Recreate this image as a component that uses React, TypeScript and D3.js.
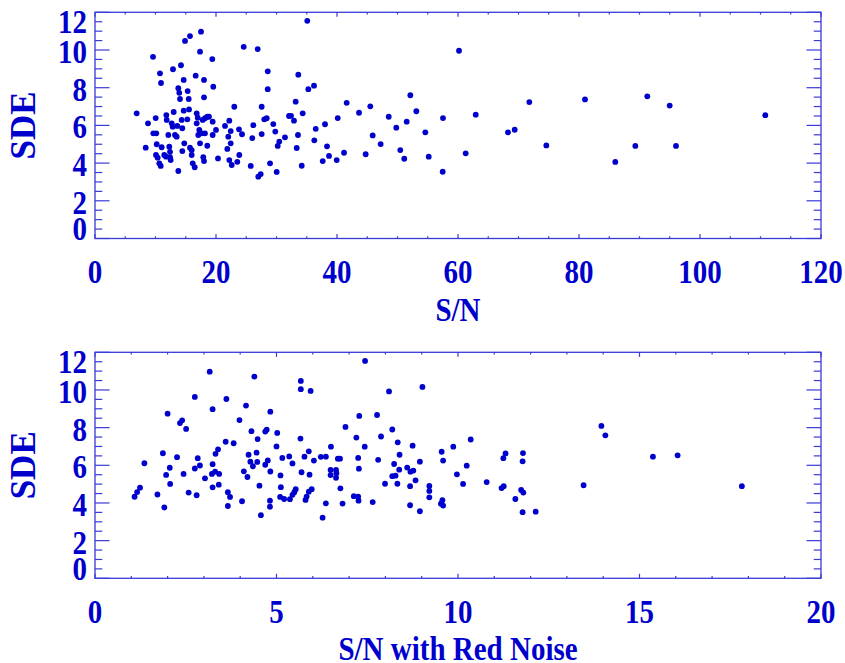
import React from "react";
import * as d3 from "d3";

const snTop = [6.89,8.38,8.76,9.59,9.64,10.13,10.03,10.20,10.08,10.36,10.63,10.86,10.74,10.91,11.02,11.45,11.79,11.85,11.74,12.28,12.40,12.12,12.40,12.51,12.68,12.89,13.01,12.84,13.22,13.50,13.77,13.77,13.93,14.05,13.60,14.21,14.33,14.43,14.43,14.66,14.66,14.76,14.88,15.26,15.32,15.49,15.54,15.70,15.70,15.98,15.98,16.15,16.48,16.64,16.81,16.98,16.81,17.07,17.24,17.36,17.36,17.52,17.64,17.80,17.90,18.02,18.02,18.02,18.18,18.18,18.56,18.56,18.84,19.39,19.45,19.45,19.55,
20.0,20.33,21.49,22.20,22.43,22.03,22.43,21.87,22.20,22.60,23.02,23.80,24.30,23.85,23.52,24.58,25.74,26.17,26.00,26.89,26.99,27.39,27.55,27.55,27.98,28.38,28.55,28.55,28.93,29.47,29.80,30.03,30.20,30.46,31.40,32.07,32.40,32.89,33.17,33.60,33.55,33.34,34.17,34.33,
35.09,35.26,36.20,36.25,36.48,37.64,38.02,38.35,38.68,39.95,40.12,41.16,41.60,43.64,44.74,45.50,45.90,47.22,48.55,49.80,50.46,51.12,51.52,52.12,53.11,54.60,55.16,57.47,57.52,60.17,61.27,62.93,68.26,69.37,71.79,74.60,80.99,86.00,89.31,91.29,94.99,96.03,110.79];

const sdeTop = [6.64,4.82,6.11,9.64,5.58,5.58,6.39,5.00,4.43,4.29,3.99,3.85,8.76,8.25,4.84,4.43,6.55,6.29,4.34,4.87,4.60,5.49,4.31,4.16,6.11,8.98,6.71,5.93,5.49,5.40,3.58,7.97,7.73,7.40,5.97,9.19,6.29,5.85,4.64,8.41,6.78,5.05,10.48,6.32,7.82,7.40,6.85,10.74,4.82,4.69,4.43,3.99,3.78,8.64,6.64,6.41,6.11,5.49,5.76,5.05,9.91,10.97,5.58,6.29,4.31,4.11,8.41,7.49,6.38,5.58,6.46,4.92,6.46,9.52,6.20,5.49,8.05,
5.76,4.25,5.97,6.25,5.70,5.40,5.05,4.75,4.16,3.90,6.99,5.79,5.53,4.43,4.07,10.17,3.85,6.01,5.33,10.05,3.28,3.42,6.99,5.54,6.32,6.38,8.87,7.92,3.99,6.07,5.67,3.53,4.91,5.14,5.37,6.50,6.51,6.25,7.26,8.69,5.49,4.80,3.86,6.64,
11.55,7.92,8.11,5.21,5.82,4.11,6.06,4.89,4.38,4.16,6.39,4.55,7.20,6.67,4.47,7.01,5.47,5.01,6.46,5.88,4.69,4.23,6.20,7.60,6.75,5.63,4.34,3.54,6.39,9.96,4.52,6.57,5.63,5.77,7.24,4.94,7.38,4.06,4.91,7.54,7.05,4.91,6.54];

const snRed = [1.09,1.16,1.24,1.36,1.72,1.87,1.91,1.96,2.00,2.06,2.07,2.26,2.34,2.40,2.44,2.51,2.58,2.75,2.75,2.80,2.83,2.89,3.03,3.16,3.24,3.24,3.22,3.31,3.24,3.32,3.39,3.42,3.41,3.60,3.62,3.66,3.72,3.66,3.82,3.98,4.05,4.10,4.16,4.20,4.23,4.28,4.31,4.35,4.39,4.48,4.47,4.45,4.53,4.57,4.69,4.73,4.69,4.76,4.83,4.83,4.82,4.82,5.00,5.02,5.11,5.12,5.16,5.10,5.21,5.35,5.37,5.44,5.44,5.49,5.53,5.67,5.67,5.66,5.69,5.77,5.80,5.83,5.89,5.97,5.89,5.91,5.94,6.03,6.22,6.36,6.36,6.27,6.50,6.49,6.49,6.64,6.65,6.64,6.69,6.75,6.76,6.82,6.90,7.13,7.25,7.26,7.20,7.25,7.27,7.28,7.44,7.43,7.65,7.77,7.80,7.88,7.99,8.10,8.19,8.19,8.28,8.24,8.33,8.34,8.39,8.38,8.60,8.69,8.77,8.68,8.68,8.75,8.83,8.95,8.95,9.02,9.21,9.21,9.21,9.55,9.59,9.57,9.53,9.59,9.87,9.97,10.14,10.24,10.35,10.79,11.20,11.26,11.25,11.31,11.58,11.74,11.80,11.78,11.79,11.78,12.14,13.46,13.95,14.06,15.37,16.05,17.82];

const sdeRed = [4.33,4.58,4.81,6.11,4.45,6.64,3.76,5.49,8.74,5.87,5.01,6.43,8.24,8.39,5.54,7.93,4.55,9.63,5.83,4.41,6.38,5.99,5.31,10.97,8.98,6.06,5.54,5.66,4.83,6.61,6.85,5.54,4.97,7.25,9.52,4.57,4.32,3.84,7.17,8.40,4.09,5.68,9.17,5.38,6.56,6.19,7.81,5.95,10.71,7.39,6.18,6.67,4.92,3.35,7.79,7.89,6.03,6.26,5.67,8.85,4.12,3.80,7.00,7.72,5.46,4.84,6.39,4.32,4.21,6.47,4.20,6.10,4.43,4.57,4.73,10.48,10.04,7.42,5.63,6.46,4.16,4.34,4.60,4.73,6.74,5.50,9.95,6.25,6.45,6.46,3.98,3.22,6.99,5.75,5.48,5.75,5.58,5.34,6.35,6.35,4.78,3.97,8.04,4.36,4.33,4.12,7.47,6.39,5.82,8.62,11.54,6.99,4.05,8.67,6.29,7.53,5.02,9.92,7.90,5.42,5.45,6.07,5.02,7.22,6.56,5.77,5.88,5.66,5.72,4.89,3.88,7.04,5.20,3.56,6.19,10.16,4.90,4.64,4.30,6.72,6.25,4.15,3.96,3.86,6.99,5.52,5.01,5.98,7.37,5.11,4.79,4.89,6.38,6.63,4.21,4.69,4.55,3.51,6.65,6.21,3.54,4.94,8.09,7.59,6.46,6.53,4.89];

const yTicks = [0, 2, 4, 6, 8, 10, 12];
const xTicksTop = [0, 20, 40, 60, 80, 100, 120];
const xTicksRed = [0, 5, 10, 15, 20];
const yLabel = "SDE";
const xLabelTop = "S/N";
const xLabelRed = "S/N with Red Noise";

const BLUE = "#0000cc";
const AXIS = "#3a3ad8";
const FONT = "'Liberation Serif', 'Times New Roman', serif";
const LEFT = 95;
const RIGHT = 821;

type PanelProps = {
  xs: number[];
  ys: number[];
  xMax: number;
  xTicks: number[];
  xMinor: number;
  top: number;
  bottom: number;
  xLabel: string;
};

function Panel({ xs, ys, xMax, xTicks, xMinor, top, bottom, xLabel }: PanelProps) {
  const x = d3.scaleLinear().domain([0, xMax]).range([LEFT, RIGHT]);
  const y = d3.scaleLinear().domain([0, 12]).range([bottom, top]);
  const xMinorTicks = d3.range(0, xMax + 1e-9, xMinor);
  const yMinorTicks = d3.range(0, 12 + 1e-9, 0.5);
  const h = bottom - top;
  const w = RIGHT - LEFT;
  const yMajLen = w * 0.02;
  const xMajLen = h * 0.02;
  const cy = (top + bottom) / 2;
  const yLabDy = (v: number) => (v === 12 ? 21 : v === 0 ? 1.5 : 13);
  return (
    <g>
      {xs.map((v, i) => (
        <circle key={i} cx={x(v)} cy={y(ys[i])} r={2.9} fill={BLUE} />
      ))}
      <rect x={LEFT} y={top} width={w} height={h} fill="none" stroke={AXIS} strokeWidth={1.3} />
      {yMinorTicks.map((v) => {
        const major = Math.abs(v - Math.round(v / 2) * 2) < 1e-6;
        const len = major ? yMajLen : yMajLen / 2;
        return (
          <g key={"y" + v}>
            <line x1={LEFT} x2={LEFT + len} y1={y(v)} y2={y(v)} stroke={AXIS} strokeWidth={1.2} />
            <line x1={RIGHT} x2={RIGHT - len} y1={y(v)} y2={y(v)} stroke={AXIS} strokeWidth={1.2} />
          </g>
        );
      })}
      {xMinorTicks.map((v) => {
        const major = xTicks.some((t) => Math.abs(t - v) < 1e-6);
        const len = major ? xMajLen : xMajLen / 2;
        return (
          <g key={"x" + v}>
            <line x1={x(v)} x2={x(v)} y1={bottom} y2={bottom - len} stroke={AXIS} strokeWidth={1.2} />
            <line x1={x(v)} x2={x(v)} y1={top} y2={top + len} stroke={AXIS} strokeWidth={1.2} />
          </g>
        );
      })}
      {yTicks.map((v) => (
        <g key={"yl" + v} transform={`translate(87,${y(v) + yLabDy(v)}) scale(1,1.18)`}>
          <text textAnchor="end" fontFamily={FONT} fontWeight="bold" fontSize={29} fill={BLUE}>
            {v}
          </text>
        </g>
      ))}
      {xTicks.map((v) => (
        <g key={"xl" + v} transform={`translate(${x(v)},${bottom + 44.5}) scale(1,1.18)`}>
          <text textAnchor="middle" fontFamily={FONT} fontWeight="bold" fontSize={29} fill={BLUE}>
            {v}
          </text>
        </g>
      ))}
      <g transform={`translate(${(LEFT + RIGHT) / 2},${bottom + 82}) scale(1,1.18)`}>
        <text textAnchor="middle" fontFamily={FONT} fontWeight="bold" fontSize={29} fill={BLUE}>
          {xLabel}
        </text>
      </g>
      <text
        transform={`translate(35,${cy}) rotate(-90)`}
        textAnchor="middle"
        fontFamily={FONT}
        fontWeight="bold"
        fontSize={35}
        fill={BLUE}
      >
        {yLabel}
      </text>
    </g>
  );
}

export default function App() {
  return (
    <svg
      width={845}
      height={663}
      style={{ position: "absolute", left: 0, top: 0, background: "#fff" }}
    >
      <rect x={0} y={0} width={845} height={663} fill="#fff" />
      <Panel xs={snTop} ys={sdeTop} xMax={120} xTicks={xTicksTop} xMinor={5} top={12.3} bottom={238.5} xLabel={xLabelTop} />
      <Panel xs={snRed} ys={sdeRed} xMax={20} xTicks={xTicksRed} xMinor={1} top={352.3} bottom={578.3} xLabel={xLabelRed} />
    </svg>
  );
}
